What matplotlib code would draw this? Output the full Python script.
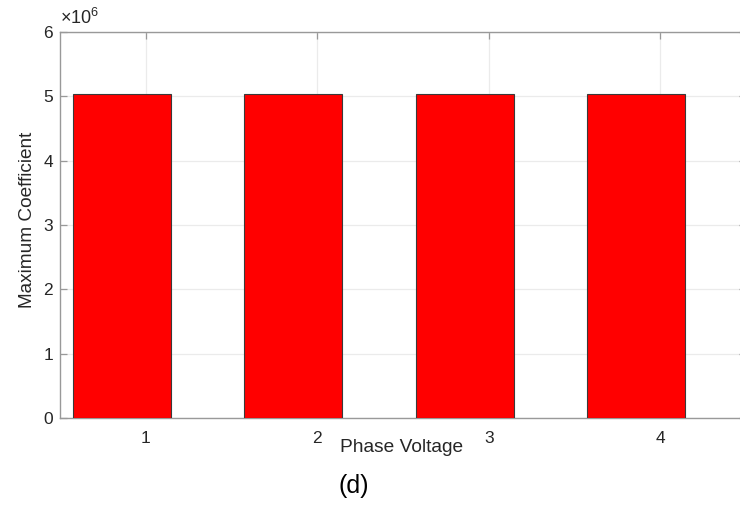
import matplotlib
matplotlib.use("Agg")
import matplotlib.pyplot as plt
from matplotlib.ticker import FuncFormatter

plt.rcParams['font.family'] = ['Liberation Sans', 'DejaVu Sans']
plt.rcParams['mathtext.fontset'] = 'custom'
plt.rcParams['mathtext.rm'] = 'Liberation Sans'
plt.rcParams['mathtext.it'] = 'Liberation Sans'

# Data
phases = [1, 2, 3, 4]
max_coeff = [5.03e6, 5.03e6, 5.03e6, 5.03e6]
y_ticks = [0, 1e6, 2e6, 3e6, 4e6, 5e6, 6e6]

fig = plt.figure(figsize=(7.4, 5.05), dpi=100)
ax = fig.add_axes([0.0811, 0.1717, 0.927, 0.7655])

# Grouped-bar style offset and width
bar_offset = -0.14
bar_width = 0.57
ax.bar([p + bar_offset for p in phases], max_coeff, width=bar_width,
       color='#ff0000', edgecolor='#3a3a3a', linewidth=0.8, zorder=3)

ax.set_xlim(0.5, 4.5)
ax.set_ylim(0, 6e6)
ax.set_xticks(phases)
ax.set_yticks(y_ticks)
ax.yaxis.set_major_formatter(FuncFormatter(lambda v, _: f"{v/1e6:g}"))

ax.set_axisbelow(True)
ax.grid(True, color='#ebebeb', linewidth=0.9)

for s in ax.spines.values():
    s.set_color('#999999')
    s.set_linewidth(1.0)

ax.tick_params(axis='both', direction='in', length=5, width=0.9,
               color='#999999', labelsize=12.5, labelcolor='#262626',
               top=True, right=True)
ax.tick_params(axis='x', pad=9)
ax.tick_params(axis='y', pad=5)

ax.text(0.0, 1.01, r'$\times10^{6}$', transform=ax.transAxes,
        fontsize=13, color='#262626', ha='left', va='bottom')

fig.text(28 / 740, 1 - 220 / 505, 'Maximum Coefficient', rotation=90,
         ha='center', va='center', fontsize=13.7, color='#262626')
fig.text(402 / 740, 1 - 448 / 505, 'Phase Voltage', ha='center', va='center',
         fontsize=13.8, color='#262626')
fig.text(354 / 740, 1 - 486 / 505, '(d)', ha='center', va='center',
         fontsize=18, color='#000000')

fig.savefig('out.png', dpi=100)
